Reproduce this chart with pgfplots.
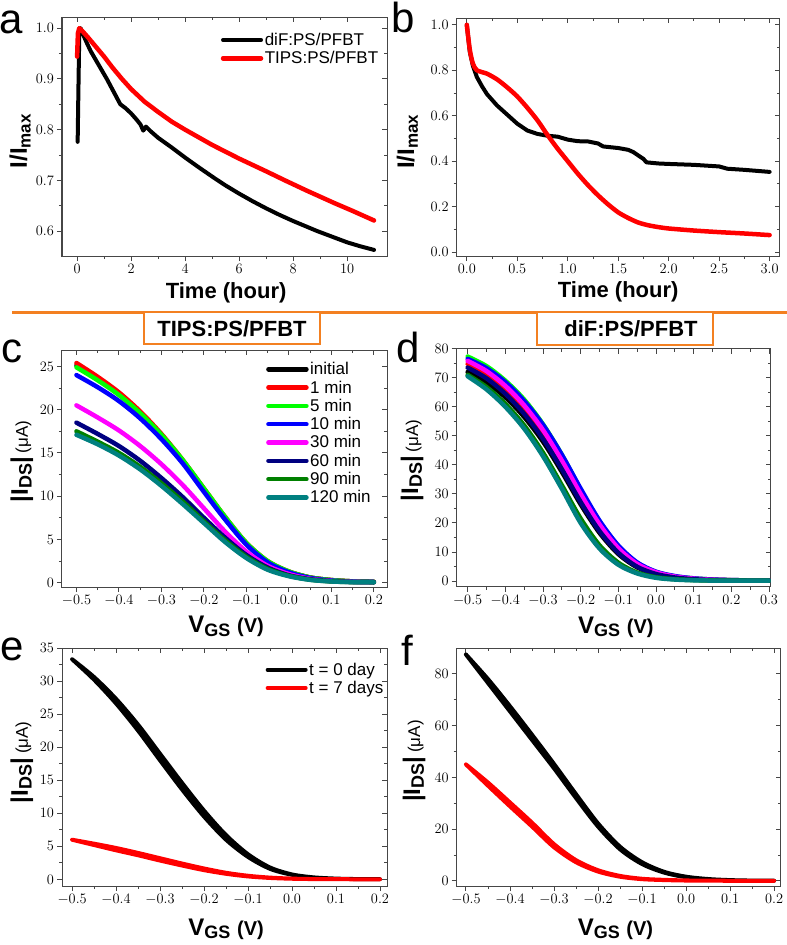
\documentclass[border=0pt]{standalone}
\usepackage{fontspec}
\setmainfont{Liberation Sans}
\usepackage{pgfplots}
\pgfplotsset{compat=1.18}
\definecolor{org}{RGB}{243,128,33}
\definecolor{navyc}{RGB}{0,0,128}
\definecolor{dgreen}{RGB}{0,128,0}
\definecolor{dcyan}{RGB}{0,128,128}
\definecolor{lgreen}{RGB}{0,255,0}
\definecolor{bluec}{RGB}{0,0,255}
\definecolor{magc}{RGB}{255,0,255}
\definecolor{redc}{RGB}{255,0,0}
\definecolor{framec}{RGB}{70,70,70}
\newcommand{\fs}[1]{\fontsize{#1}{#1}\selectfont}
\newcommand{\ylabI}{\fs{24}I/I\raisebox{-0.3ex}{\fs{17}max}}
\newcommand{\ylabD}{\fs{24}|I\raisebox{-0.3ex}{\fs{18}DS}|\,{\mdseries\fs{17}(\symbol{"03BC}A)}}
\newcommand{\xlabV}{\fs{24}V\raisebox{-0.3ex}{\fs{18}GS} \fs{20}(V)}
\pgfplotsset{
 pgeom/.style={scale only axis, anchor=south west, minor x tick num=1, minor y tick num=1},
 pframe/.style={axis line style={line width=1pt, draw=framec}},
 pticks/.style={
  tick align=center,
  major tick length=5pt, minor tick length=3pt,
  every tick/.append style={line width=0.9pt, draw=framec},
  every major x tick/.append style={yshift=-2.5pt},
  every minor x tick/.append style={yshift=-1.5pt},
  every major y tick/.append style={xshift=-2.5pt},
  every minor y tick/.append style={xshift=-1.5pt}},
 pfont/.style={
  tick label style={font=\bfseries\fs{15}},
  xticklabel style={yshift=-2pt},
  yticklabel style={xshift=-2pt},
  label style={font=\bfseries},
  ylabel style={anchor=base},
  xlabel style={anchor=base}},
 plegend/.style={
  legend style={draw=none, fill=none, font=\fs{17}, inner sep=0pt, row sep=1.5pt, nodes={inner sep=1.5pt}},
  legend cell align=left,
  legend image code/.code={\draw[##1] (0pt,0pt) -- (38pt,0pt);}},
 pplot/.style={every axis plot/.append style={line width=4.5pt, line join=round, line cap=round}},
 fx/.style={x tick label style={/pgf/number format/fixed, /pgf/number format/fixed zerofill, /pgf/number format/precision=1}},
 fy/.style={y tick label style={/pgf/number format/fixed, /pgf/number format/fixed zerofill, /pgf/number format/precision=1}},
}
\begin{document}
\begin{tikzpicture}
\path[use as bounding box] (0pt,0pt) rectangle (787pt,-945pt);

% ---------------- hidden placeholder axis (draws nothing)
\begin{axis}[scale only axis, anchor=south west, at={(400pt,-300pt)}, width=5pt, height=5pt,
  hide axis, xmin=0, xmax=1, ymin=0, ymax=1]
\end{axis}

% ---------------- panel a
\begin{axis}[pgeom, pframe, pticks, pfont, plegend, pplot, fy, at={(62pt,-256pt)}, width=325pt, height=239pt,
  xmin=-0.56, xmax=11.48, ymin=0.551, ymax=1.022,
  xtick={0,2,...,10}, ytick={0.6,0.7,...,1.01},
  xlabel={\fs{22}Time (hour)}, ylabel={\ylabI},
  xlabel style={at={(axis description cs:0.505,-0.176)}},
  ylabel style={at={(axis description cs:-0.108,0.48)}},
  legend style={at={(0.978,0.94)}, anchor=north east}]
\addplot[black, line width=4pt] coordinates {(0.02,0.776) (0.04,0.85) (0.08,0.99) (0.13,1.0) (0.2,0.99) (0.35,0.972) (0.5,0.955) (0.75,0.932) (1.1,0.9) (1.3,0.88) (1.5,0.86) (1.6,0.85) (1.8,0.842) (2.0,0.832) (2.2,0.82) (2.35,0.81) (2.45,0.798) (2.55,0.806) (2.7,0.798) (3.0,0.784) (3.5,0.765) (4.0,0.745) (4.5,0.726) (5.1,0.704) (5.5,0.69) (6.0,0.674) (6.5,0.659) (7.0,0.645) (7.5,0.632) (8.0,0.62) (8.9,0.60) (9.5,0.588) (10.0,0.578) (10.5,0.570) (11.0,0.563)};
\addlegendentry{diF:PS/PFBT}
\addplot[redc] coordinates {(0,0.944) (0.03,0.99) (0.08,1.0) (0.2,0.994) (0.4,0.982) (0.7,0.963) (1.0,0.944) (1.3,0.923) (1.66,0.9) (2.0,0.88) (2.5,0.855) (3.0,0.835) (3.5,0.816) (4.0,0.8) (5.0,0.77) (6.0,0.743) (7.0,0.718) (7.7,0.70) (8.5,0.68) (9.5,0.656) (10.2,0.64) (11.0,0.621)};
\addlegendentry{TIPS:PS/PFBT}
\end{axis}

% ---------------- panel b
\begin{axis}[pgeom, pframe, pticks, pfont, plegend, pplot, fx, fy, at={(456.7pt,-256pt)}, width=323pt, height=238pt,
  xmin=-0.1, xmax=3.1, ymin=-0.017, ymax=1.03,
  xtick={0,0.5,...,3.0}, ytick={0,0.2,...,1.01},
  xlabel={\fs{22}Time (hour)}, ylabel={\ylabI},
  xlabel style={at={(axis description cs:0.5,-0.176)}},
  ylabel style={at={(axis description cs:-0.132,0.48)}}]
\addplot[black, line width=4pt] coordinates {(0,1.0) (0.03,0.88) (0.06,0.82) (0.1,0.77) (0.15,0.73) (0.2,0.695) (0.3,0.645) (0.4,0.605) (0.5,0.565) (0.6,0.535) (0.7,0.52) (0.8,0.512) (0.9,0.508) (1.0,0.495) (1.1,0.488) (1.2,0.487) (1.3,0.478) (1.35,0.465) (1.5,0.458) (1.6,0.45) (1.65,0.44) (1.7,0.425) (1.75,0.41) (1.78,0.395) (1.9,0.39) (2.0,0.388) (2.25,0.384) (2.5,0.377) (2.58,0.367) (2.75,0.362) (3.0,0.353)};
\addplot[redc, smooth, tension=0.4] coordinates {(0,1.0) (0.03,0.89) (0.06,0.83) (0.1,0.80) (0.2,0.785) (0.3,0.76) (0.4,0.725) (0.5,0.685) (0.6,0.635) (0.7,0.58) (0.8,0.515) (0.9,0.455) (1.0,0.40) (1.1,0.345) (1.2,0.295) (1.3,0.25) (1.4,0.21) (1.5,0.175) (1.6,0.15) (1.7,0.13) (1.8,0.118) (1.9,0.11) (2.0,0.104) (2.25,0.095) (2.5,0.088) (2.75,0.082) (3.0,0.075)};
\end{axis}

% ---------------- panel c
\begin{axis}[pgeom, pframe, pticks, pfont, plegend, pplot, fx, at={(62pt,-587pt)}, width=325pt, height=237pt,
  xmin=-0.534, xmax=0.231, ymin=-0.5, ymax=26.9,
  xtick={-0.5,-0.4,...,0.21}, ytick={0,5,...,25},
  xlabel={\xlabV}, ylabel={\ylabD},
  xlabel style={at={(axis description cs:0.505,-0.194)}},
  ylabel style={at={(axis description cs:-0.105,0.53)}},
  legend style={at={(0.955,0.955)}, anchor=north east},
  every axis plot/.append style={smooth}]
\addplot[black] coordinates {(-0.5,25.1) (-0.45,23.6) (-0.4,21.8) (-0.35,19.6) (-0.3,17.0) (-0.25,14.0) (-0.2,10.7) (-0.15,7.4) (-0.1,4.5) (-0.05,2.4) (0,1.25) (0.05,0.6) (0.1,0.3) (0.15,0.15) (0.2,0.1)};
\addlegendentry{initial}
\addplot[redc] coordinates {(-0.5,25.4) (-0.45,23.8) (-0.4,22.0) (-0.35,19.8) (-0.3,17.2) (-0.25,14.2) (-0.2,10.9) (-0.15,7.6) (-0.1,4.6) (-0.05,2.5) (0,1.3) (0.05,0.6) (0.1,0.3) (0.15,0.15) (0.2,0.1)};
\addlegendentry{1 min}
\addplot[lgreen] coordinates {(-0.5,24.9) (-0.45,23.4) (-0.4,21.7) (-0.35,19.6) (-0.3,17.1) (-0.25,14.2) (-0.2,10.9) (-0.15,7.6) (-0.1,4.6) (-0.05,2.5) (0,1.3) (0.05,0.6) (0.1,0.3) (0.15,0.15) (0.2,0.1)};
\addlegendentry{5 min}
\addplot[bluec] coordinates {(-0.5,24.0) (-0.45,22.6) (-0.4,21.0) (-0.35,19.0) (-0.3,16.6) (-0.25,13.8) (-0.2,10.5) (-0.15,7.3) (-0.1,4.4) (-0.05,2.35) (0,1.2) (0.05,0.55) (0.1,0.25) (0.15,0.12) (0.2,0.08)};
\addlegendentry{10 min}
\addplot[magc] coordinates {(-0.5,20.5) (-0.45,19.1) (-0.4,17.6) (-0.35,15.8) (-0.3,13.7) (-0.25,11.3) (-0.2,8.6) (-0.15,5.9) (-0.1,3.6) (-0.05,1.95) (0,1.0) (0.05,0.45) (0.1,0.2) (0.15,0.1) (0.2,0.05)};
\addlegendentry{30 min}
\addplot[navyc] coordinates {(-0.5,18.5) (-0.45,17.2) (-0.4,15.8) (-0.35,14.1) (-0.3,12.1) (-0.25,9.9) (-0.2,7.5) (-0.15,5.2) (-0.1,3.2) (-0.05,1.75) (0,0.85) (0.05,0.4) (0.1,0.18) (0.15,0.08) (0.2,0.05)};
\addlegendentry{60 min}
\addplot[dgreen] coordinates {(-0.5,17.5) (-0.45,16.3) (-0.4,15.0) (-0.35,13.4) (-0.3,11.5) (-0.25,9.4) (-0.2,7.1) (-0.15,4.9) (-0.1,3.0) (-0.05,1.6) (0,0.8) (0.05,0.35) (0.1,0.15) (0.15,0.07) (0.2,0.05)};
\addlegendentry{90 min}
\addplot[dcyan] coordinates {(-0.5,17.1) (-0.45,16.0) (-0.4,14.7) (-0.35,13.1) (-0.3,11.2) (-0.25,9.1) (-0.2,6.9) (-0.15,4.7) (-0.1,2.85) (-0.05,1.5) (0,0.75) (0.05,0.33) (0.1,0.14) (0.15,0.07) (0.2,0.05)};
\addlegendentry{120 min}
\end{axis}

% ---------------- panel d
\begin{axis}[pgeom, pframe, pticks, pfont, plegend, pplot, fx, at={(456.7pt,-586.7pt)}, width=314pt, height=238pt,
  xmin=-0.529, xmax=0.3045, ymin=-1.97, ymax=80,
  xtick={-0.5,-0.4,...,0.31}, ytick={0,10,...,80},
  xlabel={\xlabV}, ylabel={\ylabD},
  xlabel style={at={(axis description cs:0.507,-0.195)}},
  ylabel style={at={(axis description cs:-0.123,0.53)}},
  every axis plot/.append style={smooth}]
\addplot[black] coordinates {(-0.5,72.0) (-0.45,68.4) (-0.4,63.3) (-0.35,56.5) (-0.3,48.0) (-0.25,37.6) (-0.2,26.4) (-0.15,16.6) (-0.1,9.3) (-0.05,4.7) (0,2.3) (0.05,1.1) (0.1,0.55) (0.15,0.3) (0.2,0.2) (0.25,0.15) (0.3,0.12)};
\addplot[redc] coordinates {(-0.5,74.8) (-0.45,71.2) (-0.4,66.0) (-0.35,59.2) (-0.3,50.5) (-0.25,40.0) (-0.2,28.5) (-0.15,18.2) (-0.1,10.4) (-0.05,5.3) (0,2.6) (0.05,1.3) (0.1,0.7) (0.15,0.4) (0.2,0.25) (0.25,0.18) (0.3,0.14)};
\addplot[lgreen] coordinates {(-0.5,77.3) (-0.45,74.0) (-0.4,69.0) (-0.35,62.5) (-0.3,54.0) (-0.25,43.5) (-0.2,31.5) (-0.15,20.5) (-0.1,12.0) (-0.05,6.2) (0,3.1) (0.05,1.6) (0.1,0.9) (0.15,0.5) (0.2,0.3) (0.25,0.2) (0.3,0.15)};
\addplot[bluec] coordinates {(-0.5,76.5) (-0.45,73.3) (-0.4,68.5) (-0.35,62.0) (-0.3,53.8) (-0.25,43.5) (-0.2,31.8) (-0.15,20.8) (-0.1,12.2) (-0.05,6.4) (0,3.2) (0.05,1.7) (0.1,0.9) (0.15,0.5) (0.2,0.3) (0.25,0.2) (0.3,0.15)};
\addplot[magc] coordinates {(-0.5,75.8) (-0.45,72.3) (-0.4,67.2) (-0.35,60.5) (-0.3,52.0) (-0.25,41.5) (-0.2,30.0) (-0.15,19.5) (-0.1,11.3) (-0.05,5.9) (0,3.0) (0.05,1.5) (0.1,0.8) (0.15,0.45) (0.2,0.3) (0.25,0.2) (0.3,0.15)};
\addplot[navyc] coordinates {(-0.5,73.5) (-0.45,69.8) (-0.4,64.5) (-0.35,57.6) (-0.3,49.0) (-0.25,38.5) (-0.2,27.2) (-0.15,17.2) (-0.1,9.7) (-0.05,4.9) (0,2.4) (0.05,1.2) (0.1,0.6) (0.15,0.35) (0.2,0.22) (0.25,0.16) (0.3,0.13)};
\addplot[dgreen] coordinates {(-0.5,71.0) (-0.45,66.8) (-0.4,61.0) (-0.35,53.6) (-0.3,44.2) (-0.25,33.0) (-0.2,21.5) (-0.15,12.3) (-0.1,6.3) (-0.05,2.9) (0,1.3) (0.05,0.6) (0.1,0.3) (0.15,0.18) (0.2,0.13) (0.25,0.1) (0.3,0.1)};
\addplot[dcyan] coordinates {(-0.5,70.5) (-0.45,66.0) (-0.4,60.0) (-0.35,52.5) (-0.3,43.0) (-0.25,31.8) (-0.2,20.0) (-0.15,11.2) (-0.1,5.6) (-0.05,2.6) (0,1.1) (0.05,0.5) (0.1,0.25) (0.15,0.15) (0.2,0.12) (0.25,0.1) (0.3,0.1)};
\end{axis}

% ---------------- panel e
\begin{axis}[pgeom, pframe, pticks, pfont, plegend, pplot, fx, at={(62pt,-886pt)}, width=325pt, height=238pt,
  xmin=-0.523, xmax=0.216, ymin=-1, ymax=35,
  xtick={-0.5,-0.4,...,0.21}, ytick={0,5,...,35},
  xlabel={\xlabV}, ylabel={\ylabD},
  xlabel style={at={(axis description cs:0.505,-0.206)}},
  ylabel style={at={(axis description cs:-0.105,0.52)}},
  legend style={at={(0.994,0.945)}, anchor=north east},
  every axis plot/.append style={smooth, line width=4pt}]
\addplot[black] coordinates {(-0.5,33.3) (-0.45,30.2) (-0.4,26.6) (-0.35,22.5) (-0.3,18.0) (-0.25,13.6) (-0.2,9.5) (-0.15,6.0) (-0.1,3.4) (-0.05,1.6) (0,0.7) (0.05,0.3) (0.1,0.12) (0.15,0.05) (0.2,0.03) (0.15,0.05) (0.1,0.12) (0.05,0.3) (0,0.75) (-0.05,1.8) (-0.1,3.8) (-0.15,6.7) (-0.2,10.4) (-0.25,14.6) (-0.3,19.0) (-0.35,23.4) (-0.4,27.3) (-0.45,30.6) (-0.5,33.3)};
\addlegendentry{t = 0 day}
\addplot[redc] coordinates {(-0.5,6.0) (-0.45,5.4) (-0.4,4.75) (-0.35,4.0) (-0.3,3.2) (-0.25,2.4) (-0.2,1.65) (-0.15,1.0) (-0.1,0.55) (-0.05,0.27) (0,0.12) (0.05,0.05) (0.1,0.03) (0.15,0.02) (0.2,0.02) (0.15,0.02) (0.1,0.03) (0.05,0.05) (0,0.1) (-0.05,0.22) (-0.1,0.45) (-0.15,0.85) (-0.2,1.4) (-0.25,2.1) (-0.3,2.85) (-0.35,3.65) (-0.4,4.4) (-0.45,5.2) (-0.5,6.0)};
\addlegendentry{t = 7 days}
\end{axis}

% ---------------- panel f
\begin{axis}[pgeom, pframe, pticks, pfont, plegend, pplot, fx, at={(456.7pt,-886pt)}, width=324pt, height=238pt,
  xmin=-0.521, xmax=0.215, ymin=-2, ymax=90,
  xtick={-0.5,-0.4,...,0.21}, ytick={0,20,...,80},
  xlabel={\xlabV}, ylabel={\ylabD},
  xlabel style={at={(axis description cs:0.49,-0.206)}},
  ylabel style={at={(axis description cs:-0.113,0.525)}},
  every axis plot/.append style={smooth, line width=4pt}]
\addplot[black] coordinates {(-0.5,87.5) (-0.45,76.5) (-0.4,65.5) (-0.35,54.5) (-0.3,43.5) (-0.25,32.0) (-0.2,21.0) (-0.15,12.2) (-0.1,6.5) (-0.05,3.2) (0,1.4) (0.05,0.6) (0.1,0.25) (0.15,0.1) (0.2,0.05) (0.15,0.1) (0.1,0.28) (0.05,0.7) (0,1.6) (-0.05,3.5) (-0.1,7.2) (-0.15,13.2) (-0.2,22.2) (-0.25,33.5) (-0.3,45.2) (-0.35,56.5) (-0.4,67.5) (-0.45,78.0) (-0.5,87.5)};
\addplot[redc] coordinates {(-0.5,45.0) (-0.45,36.8) (-0.4,28.8) (-0.35,21.0) (-0.3,13.0) (-0.25,7.2) (-0.2,3.6) (-0.15,1.6) (-0.1,0.65) (-0.05,0.3) (0,0.12) (0.05,0.05) (0.1,0.03) (0.15,0.02) (0.2,0.02) (0.15,0.02) (0.1,0.03) (0.05,0.06) (0,0.15) (-0.05,0.38) (-0.1,0.8) (-0.15,1.9) (-0.2,4.1) (-0.25,8.0) (-0.3,14.2) (-0.35,22.5) (-0.4,30.3) (-0.45,38.0) (-0.5,45.0)};
\end{axis}

% frame of panel a, drawn again so that it is always visible
\draw[framec, line width=1pt] (62pt,-17pt) rectangle (387pt,-256pt);

\draw[org, line width=3pt] (12pt,-312pt) -- (787pt,-312pt);
\draw[org, line width=2.5pt, fill=white] (144pt,-312pt) rectangle (320pt,-344pt);
\node[font=\bfseries\fs{22}] at (232pt,-329pt) {TIPS:PS/PFBT};
\draw[org, line width=2.5pt, fill=white] (537pt,-312pt) rectangle (713pt,-345pt);
\node[font=\bfseries\fs{22}] at (631pt,-329pt) {diF:PS/PFBT};
\node[anchor=base west, inner sep=0pt, font=\fs{42}] at (-1pt,-33pt) {a};
\node[anchor=base west, inner sep=0pt, font=\fs{42}] at (391pt,-32pt) {b};
\node[anchor=base west, inner sep=0pt, font=\fs{42}] at (1pt,-362pt) {c};
\node[anchor=base west, inner sep=0pt, font=\fs{42}] at (396pt,-362pt) {d};
\node[anchor=base west, inner sep=0pt, font=\fs{42}] at (0pt,-660pt) {e};
\node[anchor=base west, inner sep=0pt, font=\fs{42}] at (401pt,-665pt) {f};
\end{tikzpicture}
\end{document}
